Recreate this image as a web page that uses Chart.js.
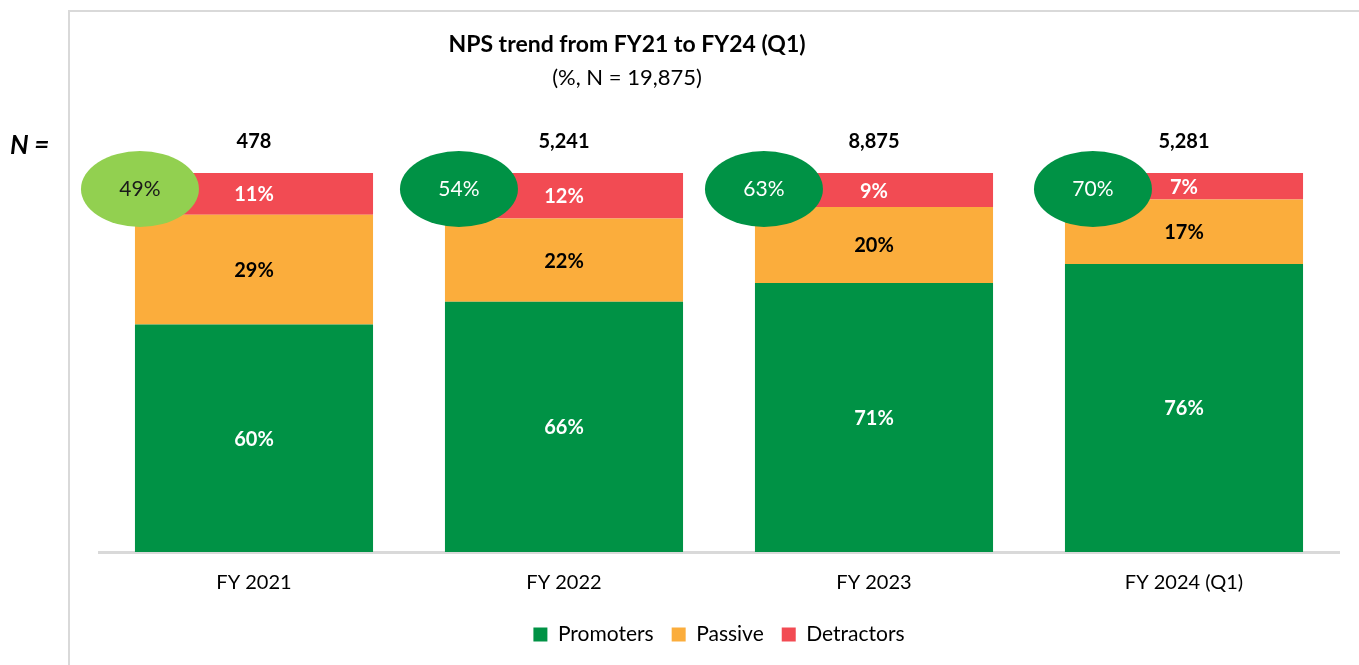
<!DOCTYPE html>
<html>
<head>
<meta charset="utf-8">
<script src="https://cdn.jsdelivr.net/npm/chart.js@4"></script>
<style>
  html, body { margin: 0; padding: 0; background: #fff; }
  #wrap { width: 1359px; height: 665px; }
</style>
</head>
<body>
<div id="wrap"><canvas id="npsChart" width="1359" height="665"></canvas></div>
<script>
const categories = ['FY 2021', 'FY 2022', 'FY 2023', 'FY 2024 (Q1)'];
const promoters = [60, 66, 71, 76];
const passive = [29, 22, 20, 17];
const detractors = [11, 12, 9, 7];
const sampleSizes = ['478', '5,241', '8,875', '5,281'];
const npsScores = [49, 54, 63, 70];

const FONT = 'Lato, "Liberation Sans", sans-serif';

// frame, title, N row, nps bubbles, value labels
const extras = {
  id: 'extras',
  beforeDraw(chart) {
    const ctx = chart.ctx;
    ctx.save();
    ctx.strokeStyle = '#d9d9d9';
    ctx.lineWidth = 2;
    ctx.beginPath();
    ctx.moveTo(69, 665);
    ctx.lineTo(69, 11);
    ctx.lineTo(1359, 11);
    ctx.stroke();

    ctx.fillStyle = '#000';
    ctx.textAlign = 'center';
    ctx.textBaseline = 'middle';
    ctx.font = 'bold 23px ' + FONT;
    ctx.fillText('NPS trend from FY21 to FY24 (Q1)', 627, 45);
    ctx.font = '22px ' + FONT;
    ctx.fillText('(%, N = 19,875)', 627, 78);

    ctx.font = 'italic bold 26px ' + FONT;
    ctx.textAlign = 'left';
    ctx.fillText('N =', 10, 146);
    ctx.restore();
  },
  afterDatasetsDraw(chart) {
    const ctx = chart.ctx;
    ctx.save();
    ctx.textAlign = 'center';
    ctx.textBaseline = 'middle';

    const labelColors = ['#fff', '#000', '#fff'];
    chart.data.datasets.forEach((ds, di) => {
      const meta = chart.getDatasetMeta(di);
      meta.data.forEach((bar, i) => {
        const mid = (bar.y + bar.base) / 2;
        ctx.fillStyle = labelColors[di];
        ctx.font = 'bold 20px ' + FONT;
        ctx.fillText(ds.data[i] + '%', bar.x, mid + 1);
      });
    });

    const top = chart.getDatasetMeta(2).data;
    const shift = [5, 14, 9, 28];
    top.forEach((bar, i) => {
      ctx.fillStyle = '#000';
      ctx.font = 'bold 20px ' + FONT;
      ctx.fillText(sampleSizes[i], bar.x, 142);

      const cx = bar.x - bar.width / 2 + shift[i];
      ctx.beginPath();
      ctx.ellipse(cx, 189, 59, 38, 0, 0, Math.PI * 2);
      ctx.fillStyle = i === 0 ? '#92d050' : '#009245';
      ctx.fill();
      ctx.fillStyle = i === 0 ? '#1a1a1a' : '#fff';
      ctx.font = '21px ' + FONT;
      ctx.fillText(npsScores[i] + '%', cx, 189);
    });
    ctx.restore();
  }
};

new Chart(document.getElementById('npsChart'), {
  type: 'bar',
  data: {
    labels: categories,
    datasets: [
      { label: 'Promoters', data: promoters, backgroundColor: '#009245' },
      { label: 'Passive', data: passive, backgroundColor: '#fbad3c' },
      { label: 'Detractors', data: detractors, backgroundColor: '#f24b53' }
    ]
  },
  options: {
    responsive: false,
    animation: false,
    events: [],
    layout: { padding: { left: 99, right: 20, top: 173, bottom: 10 } },
    datasets: { bar: { categoryPercentage: 1, barPercentage: 0.768 } },
    scales: {
      x: {
        stacked: true,
        grid: { display: false },
        border: { display: true, color: '#d9d9d9', width: 3 },
        ticks: { color: '#000', font: { family: FONT, size: 20 }, padding: 11 }
      },
      y: { stacked: true, display: false, min: 0, max: 100 }
    },
    plugins: {
      tooltip: { enabled: false },
      legend: {
        position: 'bottom',
        labels: {
          color: '#000',
          font: { family: FONT, size: 21 },
          boxWidth: 14,
          boxHeight: 14,
          padding: 18
        }
      }
    }
  },
  plugins: [extras]
});
</script>
</body>
</html>
